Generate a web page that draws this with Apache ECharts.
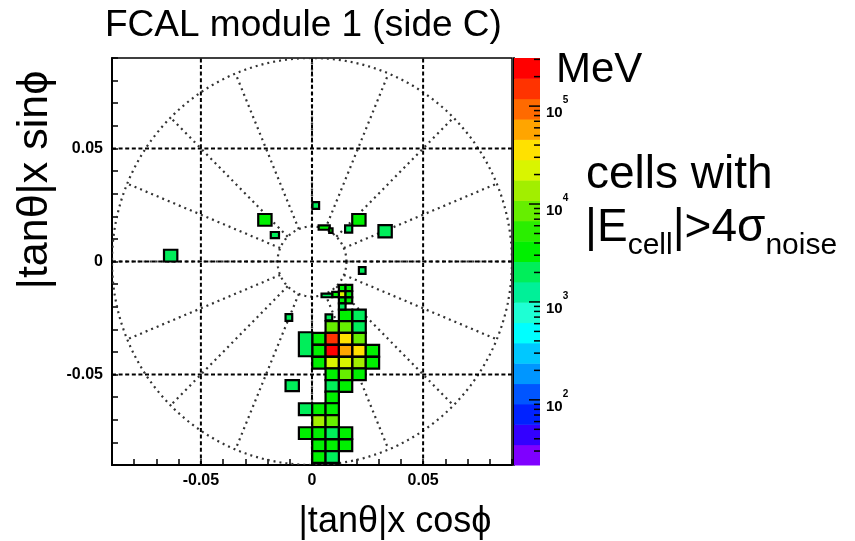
<!DOCTYPE html>
<html>
<head>
<meta charset="utf-8">
<script src="https://cdn.jsdelivr.net/npm/echarts@6/dist/echarts.min.js"></script>
<style>
html,body{margin:0;padding:0;background:#fff;}
#chart{width:855px;height:541px;}
</style>
</head>
<body>
<div id="chart"></div>
<script>
// FCAL module 1 (side C): cells with |E| above 4 sigma of noise, energy in MeV

// Cells on the regular lattice (pitch 0.006 in x, 0.0052 in y)
const latticeX = [0.0151, 0.0212,
                  0.0091, 0.0151, 0.0212,
                  0.0031, 0.0091, 0.0151, 0.0212,
                  0.0031, 0.0091, 0.0151, 0.0212, 0.0272,
                  0.0031, 0.0091, 0.0151, 0.0212, 0.0272,
                  0.0091, 0.0151, 0.0212,
                  0.0091, 0.0151,
                  0.0091,
                  -0.0029, 0.0031, 0.0091,
                  0.0031, 0.0091,
                  -0.0029, 0.0031, 0.0091, 0.0151,
                  0.0031, 0.0091, 0.0151,
                  0.0031, 0.0091];
const latticeY = [-0.0239, -0.0239,
                  -0.0290, -0.0290, -0.0290,
                  -0.0342, -0.0342, -0.0342, -0.0342,
                  -0.0395, -0.0395, -0.0395, -0.0395, -0.0395,
                  -0.0448, -0.0448, -0.0448, -0.0448, -0.0448,
                  -0.0499, -0.0499, -0.0499,
                  -0.0551, -0.0551,
                  -0.0601,
                  -0.0653, -0.0653, -0.0653,
                  -0.0706, -0.0706,
                  -0.0759, -0.0759, -0.0759, -0.0759,
                  -0.0813, -0.0813, -0.0813,
                  -0.0865, -0.0865];
const latticeE = [3300, 2100,
                  8800, 9200, 2000,
                  3400, 155000, 37000, 8400,
                  3600, 245000, 59000, 35000, 3200,
                  3300, 23000, 21000, 14500, 3400,
                  3500, 8700, 3300,
                  2000, 3300,
                  3200,
                  2200, 3300, 3100,
                  13500, 9800,
                  3400, 3300, 2100, 3200,
                  3300, 3500, 3300,
                  3200, 2000];
const latticeW = 0.006;
const latticeH = 0.0052;

// Cells of other sizes
const extraX = [-0.0029, -0.0089, 0.0076, 0.0136, 0.0166, 0.0136, 0.0166, 0.0136, 0.0166, 0.0136,
                0.0106, 0.0067, 0.0017, -0.0212, -0.0167, 0.0055, 0.0085, 0.0211, 0.0165, 0.0329,
                0.0226, -0.0104, -0.0636];
const extraY = [-0.0366, -0.0549, -0.0247, -0.0117, -0.0117, -0.0145, -0.0145, -0.0172, -0.0172, -0.0199,
                -0.0146, -0.0150, 0.0248, 0.0184, 0.0117, 0.0150, 0.0137, 0.0184, 0.0144, 0.0134,
                -0.0040, -0.0248, 0.0026];
const extraW = [0.006, 0.006, 0.003, 0.003, 0.003, 0.003, 0.003, 0.003, 0.003, 0.003,
                0.003, 0.0048, 0.003, 0.006, 0.0037, 0.005, 0.0015, 0.006, 0.0032, 0.006,
                0.003, 0.003, 0.006];
const extraH = [0.0106, 0.0049, 0.0026, 0.0027, 0.0027, 0.0027, 0.0027, 0.0027, 0.0027, 0.0027,
                0.0023, 0.0016, 0.003, 0.0052, 0.0027, 0.0019, 0.002, 0.0052, 0.0032, 0.0054,
                0.003, 0.003, 0.0052];
const extraE = [2100, 2000, 2000, 3300, 3200, 20000, 3100, 3300, 3200, 2100,
                3300, 2100, 1900, 3200, 2000, 3300, 3000, 3400, 2000, 2100,
                2000, 2000, 2300];

// Axes
const axisMin = -0.09, axisMax = 0.09;
const tickValues = [-0.05, 0, 0.05];
const tickLabels = ['-0.05', '0', '0.05'];

// Colour scale (MeV, logarithmic) and its 20 contour colours, low to high
const scaleMin = 21.6, scaleMax = 310000;
const palette = ['#7f00ff', '#3300ff', '#0022ff', '#0055ff', '#0096ff', '#00c8ff', '#00ffff', '#1effd4',
                 '#00f098', '#00ee5a', '#00f000', '#2aee00', '#66ee00', '#a2ee00', '#d9f500', '#ffe100',
                 '#ffa500', '#ff6a00', '#ff3300', '#ff0000'];
const scaleTicks = [30, 40, 50, 60, 70, 80, 90,
                    100, 200, 300, 400, 500, 600, 700, 800, 900,
                    1000, 2000, 3000, 4000, 5000, 6000, 7000, 8000, 9000,
                    10000, 20000, 30000, 40000, 50000, 60000, 70000, 80000, 90000,
                    100000, 200000, 300000];
const scaleDecades = [100, 1000, 10000, 100000];

// Detector outline: inner and outer rings with 16 radial spokes
const innerR = 0.0155, outerR = 0.09, spokes = 16;

const FONT = '"Liberation Sans", Arial, Helvetica, sans-serif';
const lmin = Math.log10(scaleMin), lmax = Math.log10(scaleMax);
const nBands = palette.length;

function bandColor(e) {
  let k = Math.floor((Math.log10(e) - lmin) / (lmax - lmin) * nBands);
  k = Math.max(0, Math.min(nBands - 1, k));
  return palette[k];
}

const cellData = [];
latticeX.forEach((x, i) => cellData.push([x, latticeY[i], latticeW, latticeH, latticeE[i]]));
extraX.forEach((x, i) => cellData.push([x, extraY[i], extraW[i], extraH[i], extraE[i]]));

const bandData = palette.map((c, i) => {
  const step = (lmax - lmin) / nBands;
  return [0, Math.pow(10, lmin + i * step), Math.pow(10, lmin + (i + 1) * step), i];
});

const dotStyle = { stroke: '#333', lineWidth: 2.2, lineDash: [2, 4], fill: null };
const gridStyle = { stroke: '#000', lineWidth: 2, lineDash: [4, 2.6] };

const chart = echarts.init(document.getElementById('chart'), null, { renderer: 'canvas' });

const option = {
  animation: false,
  backgroundColor: '#fff',
  grid: [
    { left: 112, top: 58, width: 400, height: 407, show: true, borderColor: '#000', borderWidth: 1.5, backgroundColor: 'transparent' },
    { left: 514, top: 58, width: 26, height: 407, show: false }
  ],
  xAxis: [
    {
      type: 'value', gridIndex: 0, min: axisMin, max: axisMax, interval: 0.01,
      axisLine: { onZero: false, lineStyle: { color: '#000', width: 2 } },
      axisTick: { inside: true, length: 6, lineStyle: { color: '#000', width: 1.5 } },
      splitLine: { show: false },
      axisLabel: {
        margin: 8, color: '#000', fontWeight: 'bold', fontSize: 16, fontFamily: FONT,
        formatter: v => {
          const i = tickValues.findIndex(t => Math.abs(t - v) < 1e-6);
          return i >= 0 ? tickLabels[i] : '';
        }
      }
    },
    { type: 'value', gridIndex: 1, min: 0, max: 1, show: false }
  ],
  yAxis: [
    {
      type: 'value', gridIndex: 0, min: axisMin, max: axisMax, interval: 0.01,
      axisLine: { onZero: false, lineStyle: { color: '#000', width: 2 } },
      axisTick: { inside: true, length: 6, lineStyle: { color: '#000', width: 1.5 } },
      splitLine: { show: false },
      axisLabel: {
        margin: 9, color: '#000', fontWeight: 'bold', fontSize: 16, fontFamily: FONT,
        formatter: v => {
          const i = tickValues.findIndex(t => Math.abs(t - v) < 1e-6);
          return i >= 0 ? tickLabels[i] : '';
        }
      }
    },
    {
      type: 'log', logBase: 10, gridIndex: 1, min: scaleMin, max: scaleMax, position: 'right',
      axisLine: { show: true, lineStyle: { color: '#000', width: 2 } },
      axisTick: { show: false }, axisLabel: { show: false }, splitLine: { show: false }
    }
  ],
  series: [
    {
      // detector outline
      type: 'custom', xAxisIndex: 0, yAxisIndex: 0, clip: true, silent: true,
      data: [[0, 0]], encode: { x: 0, y: 1 },
      renderItem: (params, api) => {
        const children = [];
        [innerR, outerR].forEach(r => {
          const pts = [];
          for (let a = 0; a <= 360; a += 1.5) {
            const t = a * Math.PI / 180;
            pts.push(api.coord([r * Math.cos(t), r * Math.sin(t)]));
          }
          children.push({ type: 'polyline', shape: { points: pts }, style: dotStyle });
        });
        for (let k = 0; k < spokes; k++) {
          const t = k * 2 * Math.PI / spokes;
          const a = api.coord([innerR * Math.cos(t), innerR * Math.sin(t)]);
          const b = api.coord([outerR * Math.cos(t), outerR * Math.sin(t)]);
          children.push({ type: 'line', shape: { x1: a[0], y1: a[1], x2: b[0], y2: b[1] }, style: dotStyle });
        }
        return { type: 'group', children };
      }
    },
    {
      // dashed grid at the labelled ticks
      type: 'custom', xAxisIndex: 0, yAxisIndex: 0, clip: true, silent: true,
      data: tickValues.map(v => [v, v]), encode: { x: 0, y: 1 },
      renderItem: (params, api) => {
        const v = api.value(0);
        const a = api.coord([v, axisMin]), b = api.coord([v, axisMax]);
        const c = api.coord([axisMin, v]), d = api.coord([axisMax, v]);
        return {
          type: 'group', children: [
            { type: 'line', shape: { x1: a[0], y1: a[1], x2: b[0], y2: b[1] }, style: gridStyle },
            { type: 'line', shape: { x1: c[0], y1: c[1], x2: d[0], y2: d[1] }, style: gridStyle }
          ]
        };
      }
    },
    {
      // calorimeter cells
      type: 'custom', xAxisIndex: 0, yAxisIndex: 0, clip: true,
      data: cellData, encode: { x: 0, y: 1 },
      renderItem: (params, api) => {
        const x = api.value(0), y = api.value(1), w = api.value(2), h = api.value(3);
        const p0 = api.coord([x - w / 2, y + h / 2]);
        const p1 = api.coord([x + w / 2, y - h / 2]);
        return {
          type: 'rect',
          shape: { x: p0[0], y: p0[1], width: p1[0] - p0[0], height: p1[1] - p0[1] },
          style: { fill: bandColor(api.value(4)), stroke: '#000', lineWidth: 2.2 }
        };
      }
    },
    {
      // colour scale bands
      type: 'custom', xAxisIndex: 1, yAxisIndex: 1, silent: true,
      data: bandData, encode: { x: 0, y: [1, 2] },
      renderItem: (params, api) => {
        const top = api.coord([0, api.value(2)]);
        const bot = api.coord([1, api.value(1)]);
        return {
          type: 'rect',
          shape: { x: top[0], y: top[1], width: bot[0] - top[0], height: bot[1] - top[1] + 0.5 },
          style: { fill: palette[api.value(3)] }
        };
      }
    },
    {
      // colour scale ticks
      type: 'custom', xAxisIndex: 1, yAxisIndex: 1, silent: true,
      data: scaleTicks.map(v => [1, v]), encode: { x: 0, y: 1 },
      renderItem: (params, api) => {
        const v = api.value(1);
        const p = api.coord([1, v]);
        const lg = Math.log10(v);
        const major = Math.abs(lg - Math.round(lg)) < 1e-9;
        const len = major ? 11 : 6;
        return { type: 'line', shape: { x1: p[0] - len, y1: p[1], x2: p[0], y2: p[1] }, style: { stroke: '#000', lineWidth: 1.5 } };
      }
    },
    {
      // colour scale labels
      type: 'custom', xAxisIndex: 1, yAxisIndex: 1, silent: true,
      data: scaleDecades.map(v => [1, v]), encode: { x: 0, y: 1 },
      renderItem: (params, api) => {
        const v = api.value(1);
        const p = api.coord([1, v]);
        const ex = Math.round(Math.log10(v));
        return {
          type: 'text', x: p[0] + 6, y: p[1] + 2,
          style: {
            text: '{b|10}{s|' + ex + '}', align: 'left', verticalAlign: 'middle', fill: '#000',
            rich: {
              b: { fontSize: 15, fontWeight: 'bold', fontFamily: FONT, lineHeight: 25, verticalAlign: 'bottom' },
              s: { fontSize: 10, fontWeight: 'bold', fontFamily: FONT, lineHeight: 8, verticalAlign: 'top' }
            }
          }
        };
      }
    }
  ],
  graphic: [
    { type: 'text', x: 105, y: 26, style: { text: 'FCAL module 1 (side C)', font: '37px ' + FONT, fill: '#000', align: 'left', verticalAlign: 'middle' } },
    { type: 'text', x: 556, y: 70, style: { text: 'MeV', font: '42px ' + FONT, fill: '#000', align: 'left', verticalAlign: 'middle' } },
    { type: 'text', x: 586, y: 175, style: { text: 'cells with', font: '46px ' + FONT, fill: '#000', align: 'left', verticalAlign: 'middle' } },
    {
      type: 'text', x: 585, y: 233,
      style: {
        text: '{a||E}{b|cell}{a||>4σ}{b|noise}', align: 'left', verticalAlign: 'middle', fill: '#000',
        rich: {
          a: { fontSize: 46, fontFamily: FONT, lineHeight: 56, verticalAlign: 'top' },
          b: { fontSize: 30, fontFamily: FONT, lineHeight: 24, verticalAlign: 'bottom' }
        }
      }
    },
    { type: 'text', x: 395, y: 522, style: { text: '|tanθ|x cosϕ', font: '36px ' + FONT, fill: '#000', align: 'center', verticalAlign: 'middle' } },
    { type: 'text', x: 35, y: 180, rotation: Math.PI / 2, style: { text: '|tanθ|x sinϕ', font: '43px ' + FONT, fill: '#000', align: 'center', verticalAlign: 'middle' } }
  ]
};

chart.setOption(option);
</script>
</body>
</html>
